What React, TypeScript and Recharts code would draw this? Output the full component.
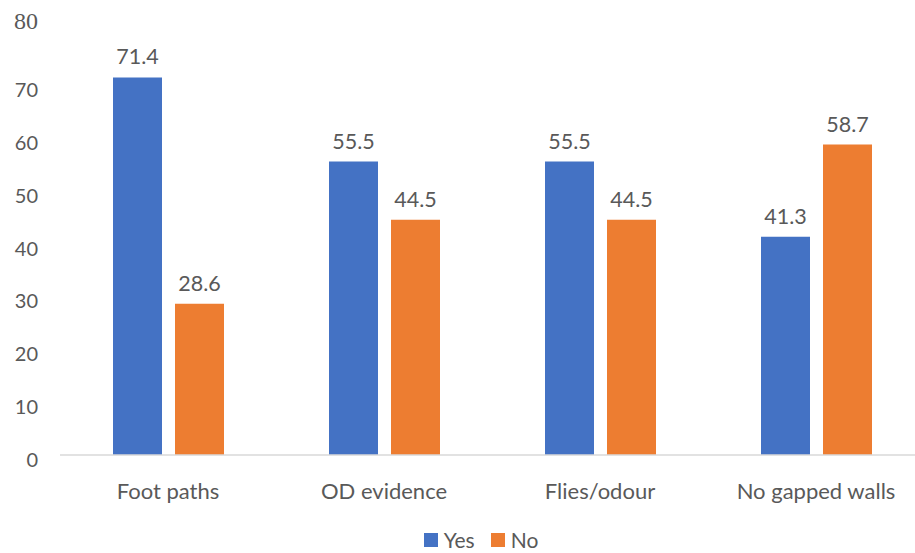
import { BarChart, Bar, XAxis, YAxis, Legend, LabelList } from 'recharts'

const categories = ['Foot paths', 'OD evidence', 'Flies/odour', 'No gapped walls']
const yesValues = [71.4, 55.5, 55.5, 41.3]
const noValues = [28.6, 44.5, 44.5, 58.7]
const yTicks = [0, 10, 20, 30, 40, 50, 60, 70, 80]

const data = categories.map((name, i) => ({ name, Yes: yesValues[i], No: noValues[i] }))

const FONT = 'Lato, "Open Sans", sans-serif'
const TEXT = '#595959'

function YTick(props: any) {
  const { x, y, payload } = props
  // the top label is drawn in a serif face in the original
  const serif = payload.value === 80
  return (
    <text
      x={x}
      y={y + (serif ? -11 : 4)}
      textAnchor="end"
      dominantBaseline="central"
      fill={TEXT}
      fontSize={serif ? 24 : 20}
      fontFamily={serif ? '"Liberation Serif", "Times New Roman", serif' : FONT}
    >
      {payload.value}
    </text>
  )
}

function LegendContent() {
  const items = [
    { label: 'Yes', color: '#4472c4' },
    { label: 'No', color: '#ed7d31' },
  ]
  return (
    <div
      style={{
        display: 'flex',
        justifyContent: 'center',
        gap: 16,
        marginTop: 12,
        transform: 'translateX(19px)',
        fontFamily: FONT,
        fontSize: 21,
        lineHeight: '22px',
        color: TEXT,
      }}
    >
      {items.map((it) => (
        <div key={it.label} style={{ display: 'flex', alignItems: 'center', gap: 6 }}>
          <span style={{ width: 14, height: 14, background: it.color, display: 'inline-block' }} />
          <span>{it.label}</span>
        </div>
      ))}
    </div>
  )
}

export default function App() {
  return (
    <div style={{ position: 'absolute', left: 0, top: 0, width: 915, height: 553, overflow: 'hidden', background: '#fff' }}>
      <BarChart
        width={924}
        height={553}
        data={data}
        margin={{ top: 32, right: 0, bottom: 0, left: 0 }}
        barGap={13}
        barSize={49}
      >
        <XAxis
          dataKey="name"
          axisLine={{ stroke: '#d9d9d9', strokeWidth: 1.5 }}
          tickLine={false}
          height={62}
          tickMargin={22}
          tick={{ fill: TEXT, fontSize: 22, fontFamily: FONT }}
        />
        <YAxis
          domain={[0, 80]}
          ticks={yTicks}
          width={60}
          axisLine={false}
          tickLine={false}
          tickMargin={16}
          tick={<YTick />}
          interval={0}
        />
        <Legend verticalAlign="bottom" height={36} content={<LegendContent />} />
        <Bar dataKey="Yes" fill="#4472c4" isAnimationActive={false}>
          <LabelList dataKey="Yes" position="top" offset={13} fill={TEXT} fontSize={21.5} fontFamily={FONT} />
        </Bar>
        <Bar dataKey="No" fill="#ed7d31" isAnimationActive={false}>
          <LabelList dataKey="No" position="top" offset={13} fill={TEXT} fontSize={21.5} fontFamily={FONT} />
        </Bar>
      </BarChart>
    </div>
  )
}
